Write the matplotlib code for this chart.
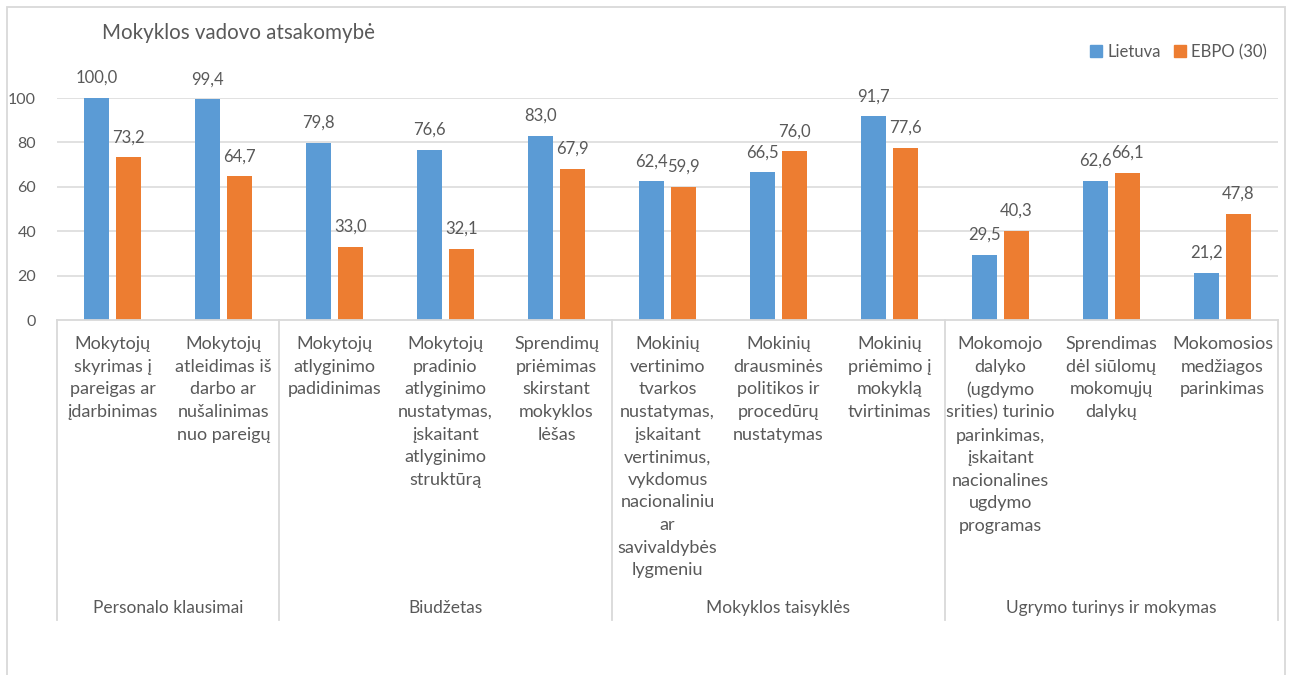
import matplotlib
matplotlib.use("Agg")
import matplotlib.pyplot as plt
import matplotlib.transforms as mtransforms
from matplotlib.patches import Patch, Rectangle
from matplotlib.lines import Line2D
import numpy as np

# ---- data ----
title = "Mokyklos vadovo atsakomybė"
series_names = ["Lietuva", "EBPO (30)"]
lietuva = [100.0, 99.4, 79.8, 76.6, 83.0, 62.4, 66.5, 91.7, 29.5, 62.6, 21.2]
ebpo = [73.2, 64.7, 33.0, 32.1, 67.9, 59.9, 76.0, 77.6, 40.3, 66.1, 47.8]
categories = [
    "Mokytojų\nskyrimas į\npareigas ar\nįdarbinimas",
    "Mokytojų\natleidimas iš\ndarbo ar\nnušalinimas\nnuo pareigų",
    "Mokytojų\natlyginimo\npadidinimas",
    "Mokytojų\npradinio\natlyginimo\nnustatymas,\nįskaitant\natlyginimo\nstruktūrą",
    "Sprendimų\npriėmimas\nskirstant\nmokyklos\nlėšas",
    "Mokinių\nvertinimo\ntvarkos\nnustatymas,\nįskaitant\nvertinimus,\nvykdomus\nnacionaliniu\nar\nsavivaldybės\nlygmeniu",
    "Mokinių\ndrausminės\npolitikos ir\nprocedūrų\nnustatymas",
    "Mokinių\npriėmimo į\nmokyklą\ntvirtinimas",
    "Mokomojo\ndalyko\n(ugdymo\nsrities) turinio\nparinkimas,\nįskaitant\nnacionalines\nugdymo\nprogramas",
    "Sprendimas\ndėl siūlomų\nmokomųjų\ndalykų",
    "Mokomosios\nmedžiagos\nparinkimas",
]
groups = ["Personalo klausimai", "Biudžetas", "Mokyklos taisyklės", "Ugrymo turinys ir mokymas"]
group_sizes = [2, 3, 3, 3]
yticks = [0, 20, 40, 60, 80, 100]

# ---- style ----
W, H = 1293, 675
BLUE = "#5B9BD5"
ORANGE = "#ED7D31"
TEXT = "#595959"
GRID = "#D9D9D9"
FONT = "Lato"

plt.rcParams["font.family"] = [FONT, "DejaVu Sans"]

fig = plt.figure(figsize=(W / 100, H / 100), dpi=100)
ax_left, ax_right, ax_top, ax_bottom = 57, 1278, 98, 320
ax = fig.add_axes([ax_left / W, 1 - ax_bottom / H, (ax_right - ax_left) / W, (ax_bottom - ax_top) / H])

n = len(categories)
x = np.arange(n)
bw = 0.22
off = 0.143
b1 = ax.bar(x - off, lietuva, bw, color=BLUE, label=series_names[0], zorder=3)
b2 = ax.bar(x + off, ebpo, bw, color=ORANGE, label=series_names[1], zorder=3)

ax.set_xlim(-0.5, n - 0.5)
ax.set_ylim(0, 100)
ax.set_yticks(yticks)
ax.set_yticklabels([str(t) for t in yticks], fontsize=11.5, color=TEXT)
ax.tick_params(axis="y", length=0, pad=15)
ax.set_xticks([])
for s in ax.spines.values():
    s.set_visible(False)
ax.set_axisbelow(True)
for t in yticks[1:]:
    ax.axhline(t, color=GRID, lw=1.1, zorder=1)
ax.axhline(0, color=GRID, lw=1.3, zorder=4, clip_on=False)

# value labels with decimal comma
def fmt(v):
    return f"{v:.1f}".replace(".", ",")

for bars, vals in ((b1, lietuva), (b2, ebpo)):
    for rect, v in zip(bars, vals):
        ax.annotate(fmt(v), (rect.get_x() + rect.get_width() / 2, v),
                    xytext=(0, 14.5), textcoords="offset points",
                    ha="center", va="center", fontsize=12, color=TEXT, clip_on=False)

# multi-level category axis
tr = mtransforms.blended_transform_factory(ax.transData, fig.transFigure)
def fy(py):
    return 1 - py / H

for i, lab in enumerate(categories):
    ax.text(i, fy(336), lab, transform=tr, ha="center", va="top",
            fontsize=13, color=TEXT, linespacing=1.51, multialignment="center")

bounds = np.concatenate([[0], np.cumsum(group_sizes)]) - 0.5
for b in bounds:
    ax.add_line(Line2D([b, b], [fy(320), fy(620)], transform=tr, color=GRID, lw=1.3, clip_on=False))
for g, a, b in zip(groups, bounds[:-1], bounds[1:]):
    ax.text((a + b) / 2, fy(608), g, transform=tr, ha="center", va="center",
            fontsize=12.5, color=TEXT)

# title and legend
fig.text(102 / W, fy(33), title, ha="left", va="center", fontsize=14.8, color=TEXT)
fig.legend(handles=[Patch(color=BLUE, label=series_names[0]), Patch(color=ORANGE, label=series_names[1])],
           loc="center right", bbox_to_anchor=(1274 / W, fy(52)), ncol=2, frameon=False,
           fontsize=12, labelcolor=TEXT, handlelength=0.75, handleheight=0.75,
           handletextpad=0.3, columnspacing=0.8, borderaxespad=0)

# chart frame
fig.add_artist(Rectangle((7 / W, -0.05), (1285 - 7) / W, 1.05 - 7 / H, transform=fig.transFigure,
                         fill=False, edgecolor=GRID, lw=1.3))

fig.savefig("out.png", dpi=100, facecolor="white")
